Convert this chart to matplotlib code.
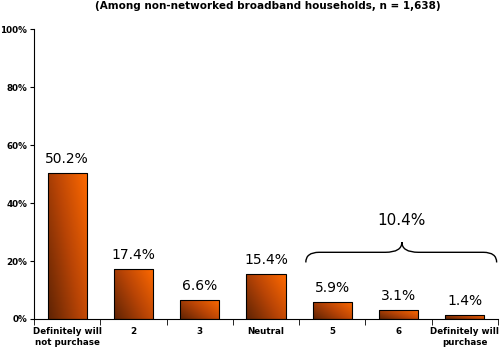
import matplotlib.pyplot as plt
import numpy as np
from matplotlib.path import Path
import matplotlib.patches as mpatches
from matplotlib.colors import LinearSegmentedColormap

categories = ["Definitely will\nnot purchase", "2", "3", "Neutral", "5", "6", "Definitely will\npurchase"]
values = [50.2, 17.4, 6.6, 15.4, 5.9, 3.1, 1.4]
y_ticks = [0, 20, 40, 60, 80, 100]
group_label = "10.4%"
title = "(Among non-networked broadband households, n = 1,638)"

grad = LinearSegmentedColormap.from_list("bar", ["#5e2304", "#b84406", "#ff6a00"])

fig = plt.figure(figsize=(5.01, 3.5), dpi=100)
ax = fig.add_axes([0.068, 0.0886, 0.926, 0.8284])

x = np.arange(len(values)) + 0.5
width = 0.59
bars = ax.bar(x, values, width, color="none", edgecolor="black", linewidth=0.8, zorder=3)

# gradient fill, dark lower-left to bright upper-right
gx, gy = np.meshgrid(np.linspace(0, 1, 60), np.linspace(0, 1, 60))
g = 0.6 * gx + 0.4 * gy
for b in bars:
    bx, by = b.get_x(), b.get_y()
    im = ax.imshow(g, cmap=grad, origin="lower", aspect="auto",
                   extent=[bx, bx + b.get_width(), by, by + b.get_height()], zorder=2)
    im.set_clip_path(b)

for xi, v in zip(x, values):
    ax.annotate(f"{v}%", (xi, v), xytext=(0, 5), textcoords="offset points",
                ha="center", va="bottom", fontsize=10)

ax.set_xlim(0, 7)
ax.set_ylim(0, 100)
ax.set_yticks(y_ticks)
ax.set_yticklabels([f"{t}%" for t in y_ticks], fontsize=6.3, fontweight="bold")
ax.set_xticks(np.arange(0, 8), minor=True)
ax.set_xticks(x)
ax.set_xticklabels(categories, fontsize=6.3, fontweight="bold", linespacing=1.3)
ax.tick_params(axis="x", which="major", length=0, pad=6)
ax.tick_params(axis="x", which="minor", length=4, direction="out")
ax.tick_params(axis="y", length=3, direction="out", pad=2)
for s in ["top", "right"]:
    ax.spines[s].set_visible(False)

# curly brace over the last three bars
x0, x1, xm = 4.1, 6.98, 5.55
yb, yh, yp = 19.5, 23.0, 26.5
verts = [(x0, yb), (x0, yh), (x0 + 0.2, yh),
         (xm - 0.25, yh), (xm, yh), (xm, yp),
         (xm, yh), (xm + 0.25, yh),
         (x1 - 0.2, yh), (x1, yh), (x1, yb)]
codes = [Path.MOVETO, Path.CURVE3, Path.CURVE3,
         Path.LINETO, Path.CURVE3, Path.CURVE3,
         Path.CURVE3, Path.CURVE3,
         Path.LINETO, Path.CURVE3, Path.CURVE3]
ax.add_patch(mpatches.PathPatch(Path(verts, codes), fill=False, lw=1.0, clip_on=False))
ax.text(xm, 34, group_label, ha="center", va="center", fontsize=11)

fig.text(0.535, 0.984, title, ha="center", va="center", fontsize=7.5, fontweight="bold")

fig.savefig("out.png", dpi=100)
